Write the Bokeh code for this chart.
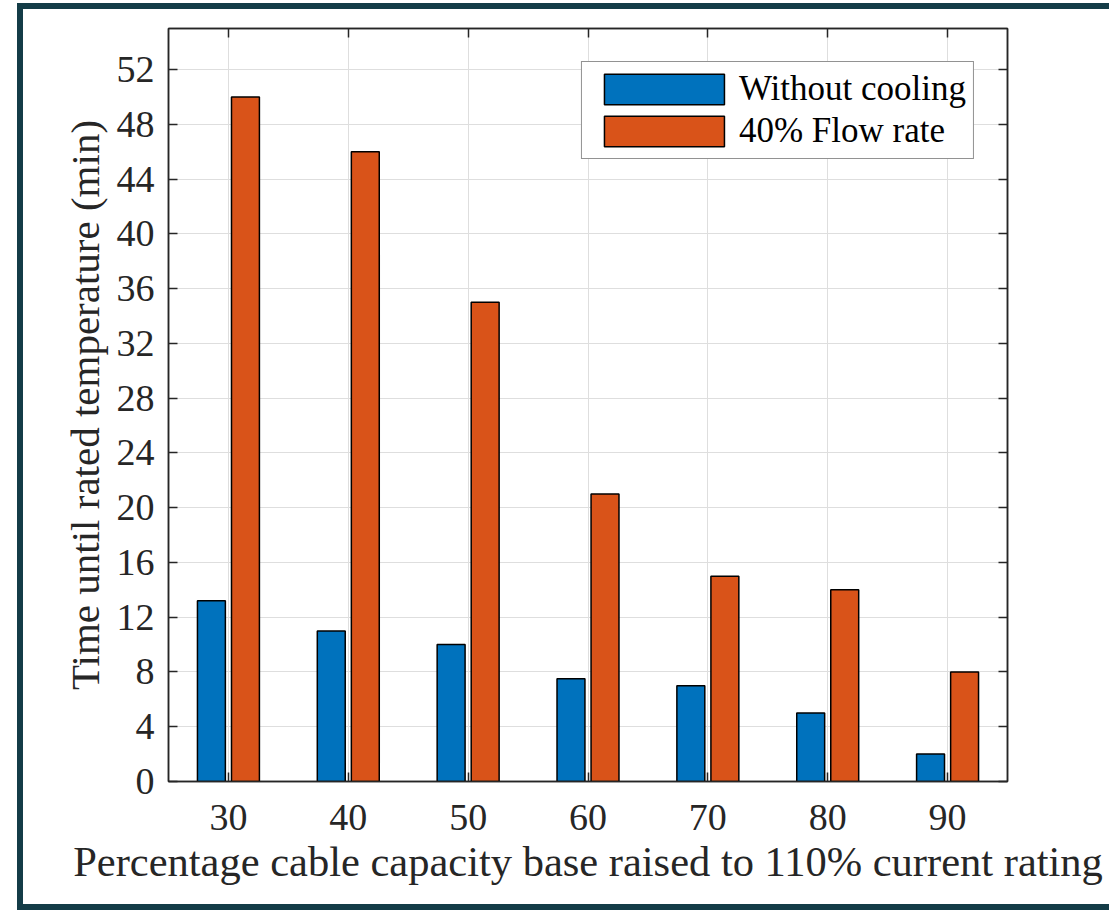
from bokeh.plotting import figure
from bokeh.models import Range1d, LinearAxis, FixedTicker, Legend, LegendItem, ColumnDataSource
from bokeh.transform import dodge
from bokeh.embed import file_html
from bokeh.resources import INLINE

categories = [30, 40, 50, 60, 70, 80, 90]
without_cooling = [13.2, 11, 10, 7.5, 7, 5, 2]
flow_rate_40 = [50, 46, 35, 21, 15, 14, 8]
y_ticks = list(range(0, 53, 4))
series_names = ["Without cooling", "40% Flow rate"]

src = ColumnDataSource(dict(x=categories, a=without_cooling, b=flow_rate_40))

FONT = "Liberation Serif"
TXT = "#262626"
FRAME = "6px solid #143c47"

p = figure(frame_width=839, frame_height=753, output_backend="svg", toolbar_location=None,
           x_range=Range1d(25, 95), y_range=Range1d(0, 55),
           min_border_left=145, min_border_top=19, min_border_right=102, min_border_bottom=123)
p.styles = {"border-left": FRAME, "border-top": FRAME, "border-bottom": FRAME,
            "position": "relative", "left": "17px", "top": "3px"}
p.background_fill_color = "white"
p.border_fill_color = "white"
p.outline_line_color = "#262626"
p.outline_line_width = 1.5

r1 = p.vbar(x=dodge("x", -1.42), top="a", width=2.33, source=src,
            fill_color="#0072BD", line_color="black", line_width=1.5)
r2 = p.vbar(x=dodge("x", 1.42), top="b", width=2.33, source=src,
            fill_color="#D95319", line_color="black", line_width=1.5)

p.xaxis.ticker = FixedTicker(ticks=categories)
p.yaxis.ticker = FixedTicker(ticks=y_ticks)
p.xgrid.ticker = FixedTicker(ticks=categories)
p.ygrid.ticker = FixedTicker(ticks=y_ticks)
p.grid.grid_line_color = "#dedede"
p.grid.grid_line_width = 1

for ax in [p.xaxis[0], p.yaxis[0]]:
    ax.major_tick_in = 9
    ax.major_tick_out = 0
    ax.minor_tick_in = 0
    ax.minor_tick_out = 0
    ax.axis_line_color = "#262626"
    ax.axis_line_width = 1.5
    ax.major_tick_line_color = "#262626"
    ax.major_tick_line_width = 1.5
    ax.major_label_text_font = FONT
    ax.major_label_text_font_size = "38px"
    ax.major_label_text_color = TXT
    ax.axis_label_text_font = FONT
    ax.axis_label_text_color = TXT
    ax.axis_label_text_font_style = "normal"

p.xaxis.axis_label_text_font_size = "42.5px"
p.yaxis.axis_label_text_font_size = "41px"
p.xaxis.axis_label = "Percentage cable capacity base raised to 110% current rating"
p.yaxis.axis_label = "Time until rated temperature (min)"
p.xaxis.major_label_standoff = 23
p.yaxis.major_label_standoff = 14
p.xaxis.axis_label_standoff = 5
p.yaxis.axis_label_standoff = 6

def side_axis(ticks):
    return LinearAxis(ticker=FixedTicker(ticks=ticks),
                      major_label_overrides={t: "" for t in ticks},
                      major_tick_in=9, major_tick_out=0, minor_tick_in=0, minor_tick_out=0,
                      axis_line_color="#262626", axis_line_width=1.5, major_tick_line_width=1.5,
                      major_tick_line_color="#262626", major_label_standoff=0)

p.add_layout(side_axis(categories), "above")
p.add_layout(side_axis(y_ticks), "right")

legend = Legend(items=[LegendItem(label=series_names[0], renderers=[r1]),
                       LegendItem(label=series_names[1], renderers=[r2])],
                location="top_right", margin=33, padding=7, spacing=2,
                glyph_width=150, glyph_height=38, label_standoff=-4,
                label_text_font=FONT, label_text_font_size="35px", label_text_color="black",
                border_line_color="#262626", border_line_width=1.5,
                background_fill_alpha=1.0)
p.add_layout(legend, "center")

open("out.html", "w").write(file_html(p, INLINE))
